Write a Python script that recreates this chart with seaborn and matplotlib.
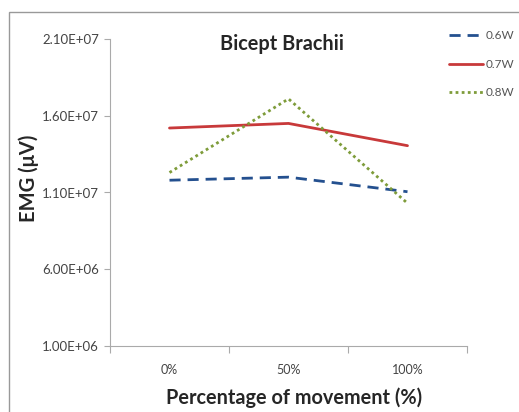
import matplotlib
matplotlib.use("Agg")
import matplotlib.pyplot as plt
import seaborn as sns
import pandas as pd
from matplotlib.patches import Rectangle

categories = ["0%", "50%", "100%"]
series_names = ["0.6W", "0.7W", "0.8W"]
values_06 = [11.8e6, 12.0e6, 11.05e6]
values_07 = [15.2e6, 15.5e6, 14.05e6]
values_08 = [12.3e6, 17.1e6, 10.3e6]
yticks = [1.0e6, 6.0e6, 1.1e7, 1.6e7, 2.1e7]
ytick_labels = ["1.00E+06", "6.00E+06", "1.10E+07", "1.60E+07", "2.10E+07"]

rows = []
for name, vals in zip(series_names, [values_06, values_07, values_08]):
    for i, (c, v) in enumerate(zip(categories, vals)):
        rows.append({"pos": i, "cat": c, "series": name, "value": v})
df = pd.DataFrame(rows)

sns.set_theme(style="white")
plt.rcParams['font.family'] = ['Lato', 'DejaVu Sans']

fig = plt.figure(figsize=(5.19, 4.12), dpi=100)
ax = fig.add_axes([110/519, 1-346/412, (467-110)/519, (346-39)/412])

palette = {"0.6W": "#24508F", "0.7W": "#C8393A", "0.8W": "#7E9C3A"}
dashes = {"0.6W": (4, 2.5), "0.7W": "", "0.8W": (1, 1.2)}
sns.lineplot(data=df, x="pos", y="value", hue="series", style="series",
             palette=palette, dashes=dashes, linewidth=2.0, ax=ax,
             legend=True, markers=False)

ax.set_xlim(-0.5, 2.5)
ax.set_ylim(1.0e6, 2.1e7)
ax.set_xticks(range(len(categories)))
ax.set_xticklabels(categories)
ax.set_xticks([-0.5, 0.5, 1.5, 2.5], minor=True)
ax.tick_params(axis="x", which="major", length=0, pad=13, labelsize=9, colors="#444444")
ax.tick_params(axis="x", which="minor", length=5, width=0.8, color="#AAAAAA", direction="out", bottom=True)
ax.set_yticks(yticks)
ax.set_yticklabels(ytick_labels)
ax.tick_params(axis="y", length=4, width=0.8, color="#AAAAAA", direction="out", left=True, labelsize=9.5, labelcolor="#444444", pad=4)

for s in ["top", "right"]:
    ax.spines[s].set_visible(False)
for s in ["left", "bottom"]:
    ax.spines[s].set_color("#AAAAAA")
    ax.spines[s].set_linewidth(0.8)

ax.set_xlabel("Percentage of movement (%)", fontsize=14.3, fontweight="bold")
ax.xaxis.set_label_coords(0.516, -0.135)
ax.set_ylabel("EMG (\u03bcV)", fontsize=14.5, fontweight="bold")
ax.yaxis.set_label_coords(-0.2, 0.545)
ax.set_title("Bicept Brachii", fontsize=14.3, fontweight="bold", x=0.482, y=0.965, pad=0)

leg = ax.legend(loc="upper left", bbox_to_anchor=(449/519, 1-30/412), bbox_transform=fig.transFigure,
                frameon=False, fontsize=8.5, handlelength=2.9, handletextpad=0.2,
                labelspacing=1.5, borderaxespad=0, borderpad=0)
for t in leg.get_texts():
    t.set_color("#555555")

fig.patches.append(Rectangle((9/519, -0.1), 1.2, 1.1 - 12/412 + 0.0, transform=fig.transFigure,
                             fill=False, edgecolor="#999999", linewidth=1.0))

fig.savefig("out.png", dpi=100)
